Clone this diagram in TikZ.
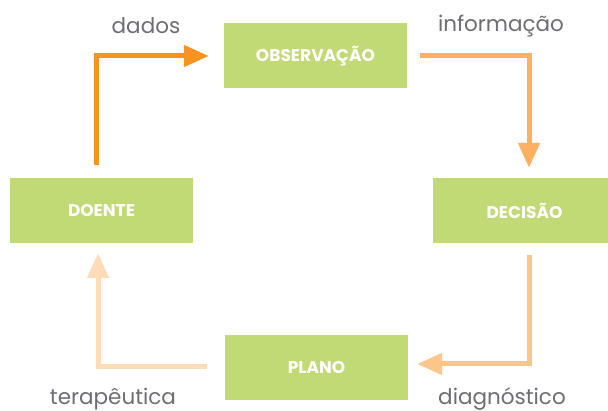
\documentclass[tikz,border=0pt]{standalone}
\usepackage{fontspec}
\setmainfont{Poppins}
\usepackage{tikz}
\usetikzlibrary{arrows.meta}
\definecolor{boxgreen}{HTML}{C2DA76}
\definecolor{labelgray}{HTML}{6D6E71}
\definecolor{orangeA}{HTML}{F7941D}
\definecolor{orangeB}{HTML}{FBB062}
\definecolor{orangeC}{HTML}{FDC689}
\definecolor{orangeD}{HTML}{FEDCB8}
\tikzset{
stage/.style={
  rectangle,fill=boxgreen,text=white,
  minimum width=183pt,minimum height=65pt,
  inner sep=0pt,font=\fontsize{17}{17}\selectfont\bfseries
},
flowlabel/.style={text=labelgray,font=\fontsize{21.5}{21.5}\selectfont},
flow/.style={line width=5pt,-{Triangle[length=25pt,width=21pt]}},
}
\begin{document}
\begin{tikzpicture}[x=1pt,y=-1pt]
\useasboundingbox (0,0) rectangle (608,411);
% the boxes
\node[stage] (obs) at (315.5,56) {OBSERVAÇÃO};
\node[stage] (doente) at (101.5,210.5) {DOENTE};
\node[stage] (decisao) at (524.5,210.5) {DECISÃO};
\node[stage] (plano) at (316.5,368) {PLANO};
% the labels
\node[flowlabel] (dados) at (146,26) {dados};
\node[flowlabel] (info) at (501,26) {informação};
\node[flowlabel] (diag) at (502,399) {diagnóstico};
\node[flowlabel] (terap) at (113,399) {terapêutica};
% the arrows
\draw[flow,orangeA] ([xshift=-5pt,yshift=13pt]doente.north) |- ([xshift=-15pt]obs.west);
\draw[flow,orangeB] ([xshift=13pt]obs.east) -| ([xshift=4.5pt,yshift=10pt]decisao.north);
\draw[flow,orangeC] ([xshift=4.5pt,yshift=-12pt]decisao.south) |- ([xshift=9pt,yshift=4pt]plano.east);
\draw[flow,orangeD] ([xshift=-18pt,yshift=1pt]plano.west) -| ([xshift=-3.5pt,yshift=-10pt]doente.south);
\end{tikzpicture}
\end{document}
